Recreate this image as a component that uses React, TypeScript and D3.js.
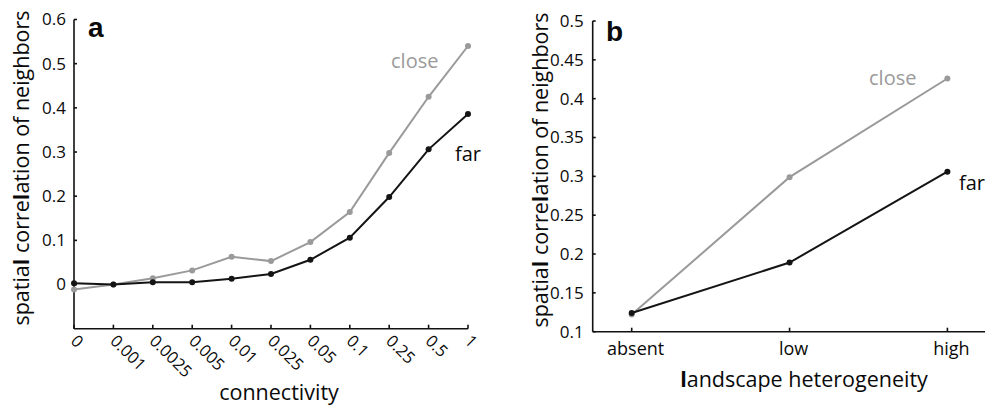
import React from "react";
import * as d3 from "d3";

const connectivity = ["0", "0.001", "0.0025", "0.005", "0.01", "0.025", "0.05", "0.1", "0.25", "0.5", "1"];
const closeA = [-0.011, 0.0, 0.014, 0.032, 0.063, 0.053, 0.096, 0.164, 0.298, 0.425, 0.54];
const farA = [0.003, 0.0, 0.005, 0.005, 0.013, 0.024, 0.056, 0.106, 0.198, 0.306, 0.386];
const yTicksA = [0, 0.1, 0.2, 0.3, 0.4, 0.5, 0.6];
const yTickLabelsA = ["0", "0.1", "0.2", "0.3", "0.4", "0.5", "0.6"];

const heterogeneity = ["absent", "low", "high"];
const closeB = [0.122, 0.299, 0.426];
const farB = [0.124, 0.189, 0.306];
const yTicksB = [0.1, 0.15, 0.2, 0.25, 0.3, 0.35, 0.4, 0.45, 0.5];
const yTickLabelsB = ["0.1", "0.15", "0.2", "0.25", "0.3", "0.35", "0.4", "0.45", "0.5"];

const FONT = "'Open Sans', 'Noto Sans', sans-serif";
const GRAY = "#9a9a9a";
const BLACK = "#141414";
const TEXT = "#0a0a0a";

function YLabel({ x, y }: { x: number; y: number }) {
  return (
    <text
      transform={`translate(${x},${y}) rotate(-90)`}
      textAnchor="middle"
      fontSize={21.5}
      fontFamily={FONT}
      fill={TEXT}
    >
      spatia<tspan fontWeight="bold">l</tspan> corre<tspan fontWeight="bold">l</tspan>ation of neighbors
    </text>
  );
}

function Series({ xs, values, x, y, color }: any) {
  const line = d3
    .line<number>()
    .x((_, i) => x(xs[i]) as number)
    .y((d) => y(d));
  return (
    <g>
      <path d={line(values) || ""} fill="none" stroke={color} strokeWidth={2} />
      {values.map((v: number, i: number) => (
        <circle key={i} cx={x(xs[i])} cy={y(v)} r={3} fill={color} />
      ))}
    </g>
  );
}

export default function App() {
  // Panel a
  const xA = d3.scalePoint<string>().domain(connectivity).range([74, 468]);
  const yA = d3.scaleLinear().domain([-0.1, 0.6]).range([328.7, 19.5]);
  // Panel b
  const xB = d3.scalePoint<string>().domain(heterogeneity).range([631.7, 947.4]);
  const yB = d3.scaleLinear().domain([0.1, 0.5]).range([331.7, 21]);

  const axA = 74;
  const axB = 592.7;

  return (
    <svg
      width={986}
      height={406}
      style={{ position: "absolute", left: 0, top: 0, background: "#fff" }}
      fontFamily={FONT}
    >
      <rect width={986} height={406} fill="#fff" />
      {/* Panel a axes */}
      <g stroke="#111" strokeWidth={1.6} fill="none">
        <line x1={axA} x2={axA} y1={yA(0.6)} y2={yA(-0.1)} />
        <line x1={axA} x2={468} y1={yA(-0.1)} y2={yA(-0.1)} />
        {yTicksA.map((t) => (
          <line key={t} x1={axA} x2={axA + 3} y1={yA(t)} y2={yA(t)} />
        ))}
        {connectivity.map((c) => (
          <line key={c} x1={xA(c)} x2={xA(c)} y1={yA(-0.1)} y2={yA(-0.1) - 4} />
        ))}
      </g>
      {yTicksA.map((t, i) => (
        <text key={t} x={axA - 8} y={yA(t)} dy="0.35em" textAnchor="end" fontSize={17} fill={TEXT}>
          {yTickLabelsA[i]}
        </text>
      ))}
      {connectivity.map((c) => (
        <text
          key={c}
          transform={`translate(${(xA(c) as number) + 4},${yA(-0.1) + 5}) rotate(45)`}
          dy="0.7em"
          textAnchor="start"
          fontSize={16.5}
          fill={TEXT}
        >
          {c}
        </text>
      ))}
      <text x={279} y={400} textAnchor="middle" fontSize={21.5} fill={TEXT}>
        connectivity
      </text>
      <YLabel x={29} y={168} />
      <text x={88} y={37} fontSize={28} fontWeight="bold" fontFamily="'Liberation Sans', Arial, sans-serif" fill={TEXT}>
        a
      </text>
      <Series xs={connectivity} values={closeA} x={xA} y={yA} color={GRAY} />
      <Series xs={connectivity} values={farA} x={xA} y={yA} color={BLACK} />
      <text x={391} y={68} fontSize={20} fill={GRAY}>close</text>
      <text x={455} y={161} fontSize={20} fill={TEXT}>far</text>

      {/* Panel b axes */}
      <g stroke="#111" strokeWidth={1.6} fill="none">
        <line x1={axB} x2={axB} y1={yB(0.5)} y2={yB(0.1)} />
        <line x1={axB} x2={985} y1={yB(0.1)} y2={yB(0.1)} />
        {yTicksB.map((t) => (
          <line key={t} x1={axB} x2={axB + 3} y1={yB(t)} y2={yB(t)} />
        ))}
        {heterogeneity.map((c) => (
          <line key={c} x1={xB(c)} x2={xB(c)} y1={yB(0.1)} y2={yB(0.1) - 4} />
        ))}
      </g>
      {yTicksB.map((t, i) => (
        <text key={t} x={axB - 9} y={yB(t)} dy="0.35em" textAnchor="end" fontSize={17} fill={TEXT}>
          {yTickLabelsB[i]}
        </text>
      ))}
      {heterogeneity.map((c) => (
        <text key={c} x={(xB(c) as number) + 4} y={355} textAnchor="middle" fontSize={18} fill={TEXT}>
          {c}
        </text>
      ))}
      <text x={804} y={387} textAnchor="middle" fontSize={21.5} fill={TEXT}>
        <tspan fontWeight="bold">l</tspan>andscape heterogeneity
      </text>
      <YLabel x={548} y={170} />
      <text x={606} y={41} fontSize={28} fontWeight="bold" fontFamily="'Liberation Sans', Arial, sans-serif" fill={TEXT}>
        b
      </text>
      <Series xs={heterogeneity} values={closeB} x={xB} y={yB} color={GRAY} />
      <Series xs={heterogeneity} values={farB} x={xB} y={yB} color={BLACK} />
      <text x={869} y={85} fontSize={20} fill={GRAY}>close</text>
      <text x={959} y={190} fontSize={20} fill={TEXT}>far</text>
    </svg>
  );
}
